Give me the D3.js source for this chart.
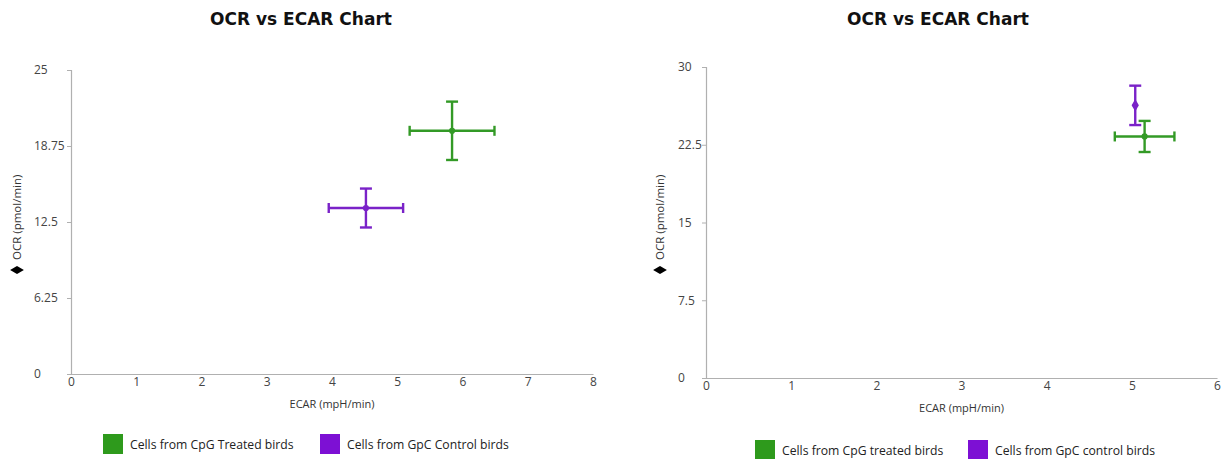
<!DOCTYPE html>
<html><head><meta charset="utf-8">
<script src="https://cdn.jsdelivr.net/npm/d3@7/dist/d3.min.js"></script>
<style>
body{margin:0;background:#fff;}
svg{display:block;font-family:"Open Sans","Noto Sans",sans-serif;}
</style></head>
<body><svg id="c" width="1227" height="459"></svg>
<script>
// ---- data ----
const seriesNamesLeft = ["Cells from CpG Treated birds", "Cells from GpC Control birds"];
const seriesNamesRight = ["Cells from CpG treated birds", "Cells from GpC control birds"];
const ecarLeft = [5.84, 4.52];
const ocrLeft = [20.0, 13.65];
const ecarErrLeft = [0.65, 0.57];
const ocrErrLeft = [2.4, 1.6];
const ecarRight = [5.15, 5.04];
const ocrRight = [23.3, 26.3];
const ecarErrRight = [0.35, 0.03];
const ocrErrRight = [1.5, 1.9];
const yTicksLeft = [0, 6.25, 12.5, 18.75, 25];
const xTicksLeft = [0, 1, 2, 3, 4, 5, 6, 7, 8];
const yTicksRight = [0, 7.5, 15, 22.5, 30];
const xTicksRight = [0, 1, 2, 3, 4, 5, 6];
const seriesColors = ["#339a26", "#7a22c8"];
const legendColors = ["#2e9a1c", "#7d10d4"];

const svg = d3.select("#c");

function drawChart(o) {
  const g = svg.append("g");
  const x = d3.scaleLinear().domain([0, d3.max(o.xTicks)]).range([o.left, o.right]);
  const y = d3.scaleLinear().domain([0, d3.max(o.yTicks)]).range([o.bottom, o.top]);

  g.append("text").attr("x", o.titleX).attr("y", 25).attr("text-anchor", "middle")
    .attr("font-family", "DejaVu Sans").attr("font-weight", "bold").attr("font-size", 17)
    .attr("fill", "#111").text("OCR vs ECAR Chart");

  // y axis
  const ya = g.append("g").attr("transform", `translate(${o.left},0)`)
    .call(d3.axisLeft(y).tickValues(o.yTicks).tickFormat(d => String(d)).tickSize(4).tickPadding(0));
  ya.select(".domain").attr("stroke", "#b0b0b0").attr("stroke-width", 1.2);
  ya.selectAll(".tick line").attr("stroke", "#b0b0b0");
  ya.selectAll(".tick text").attr("x", o.yLabelX - o.left).attr("text-anchor", "start")
    .attr("font-size", 12).attr("fill", "#444").attr("font-family", "Open Sans");

  // x axis
  const xa = g.append("g").attr("transform", `translate(0,${o.bottom})`)
    .call(d3.axisBottom(x).tickValues(o.xTicks).tickFormat(d => String(d)).tickSize(0).tickPadding(3));
  xa.select(".domain").attr("stroke", "#b0b0b0").attr("stroke-width", 1.2);
  xa.selectAll(".tick text").attr("font-size", 12).attr("fill", "#444").attr("font-family", "Open Sans");

  // axis titles
  g.append("text").attr("x", (o.left + o.right) / 2).attr("y", o.bottom + 34)
    .attr("text-anchor", "middle").attr("font-size", 11).attr("fill", "#333").text("ECAR (mpH/min)");
  const yt = g.append("g").attr("transform", `translate(${o.yTitleX},${o.yTitleY}) rotate(-90)`);
  yt.append("path").attr("d", d3.symbol(d3.symbolDiamond, 55)()).attr("fill", "#000");
  yt.append("text").attr("x", 10).attr("y", 4).attr("font-size", 11.5).attr("fill", "#333").text("OCR (pmol/min)");

  // points with error bars
  o.ecar.forEach((ex, i) => {
    const c = seriesColors[i];
    const cx = x(ex), cy = y(o.ocr[i]);
    const xl = x(ex - o.ecarErr[i]), xr = x(ex + o.ecarErr[i]);
    const yt2 = y(o.ocr[i] + o.ocrErr[i]), yb = y(o.ocr[i] - o.ocrErr[i]);
    const s = g.append("g").attr("stroke", c).attr("stroke-width", 2.4).attr("fill", "none");
    s.append("line").attr("x1", xl).attr("x2", xr).attr("y1", cy).attr("y2", cy);
    if (xr - xl > 6) {
      s.append("line").attr("x1", xl).attr("x2", xl).attr("y1", cy - 5).attr("y2", cy + 5);
      s.append("line").attr("x1", xr).attr("x2", xr).attr("y1", cy - 5).attr("y2", cy + 5);
    }
    s.append("line").attr("x1", cx).attr("x2", cx).attr("y1", yt2).attr("y2", yb);
    s.append("line").attr("x1", cx - 6).attr("x2", cx + 6).attr("y1", yt2).attr("y2", yt2);
    s.append("line").attr("x1", cx - 6).attr("x2", cx + 6).attr("y1", yb).attr("y2", yb);
    const sym = o.diamond[i] ? d3.symbolDiamond : d3.symbolCircle;
    g.append("path").attr("d", d3.symbol(sym, o.diamond[i] ? 45 : 30)())
      .attr("transform", `translate(${cx},${cy})`).attr("fill", c);
  });

  // legend
  o.names.forEach((n, i) => {
    const lx = o.legendX[i];
    g.append("rect").attr("x", lx).attr("y", o.legendY).attr("width", 20).attr("height", 20)
      .attr("fill", legendColors[i]);
    g.append("text").attr("x", lx + 27).attr("y", o.legendY + 15).attr("font-size", 12.2)
      .attr("fill", "#222").text(n);
  });
}

drawChart({
  left: 71, right: 593, top: 70, bottom: 374, titleX: 301, yLabelX: 34,
  yTitleX: 17, yTitleY: 270, xTicks: xTicksLeft, yTicks: yTicksLeft,
  ecar: ecarLeft, ocr: ocrLeft, ecarErr: ecarErrLeft, ocrErr: ocrErrLeft,
  diamond: [false, false], names: seriesNamesLeft, legendX: [103, 320], legendY: 434
});
drawChart({
  left: 706, right: 1217, top: 67, bottom: 378, titleX: 938, yLabelX: 678,
  yTitleX: 660, yTitleY: 270, xTicks: xTicksRight, yTicks: yTicksRight,
  ecar: ecarRight, ocr: ocrRight, ecarErr: ecarErrRight, ocrErr: ocrErrRight,
  diamond: [false, true], names: seriesNamesRight, legendX: [755, 968], legendY: 440
});
</script></body></html>
